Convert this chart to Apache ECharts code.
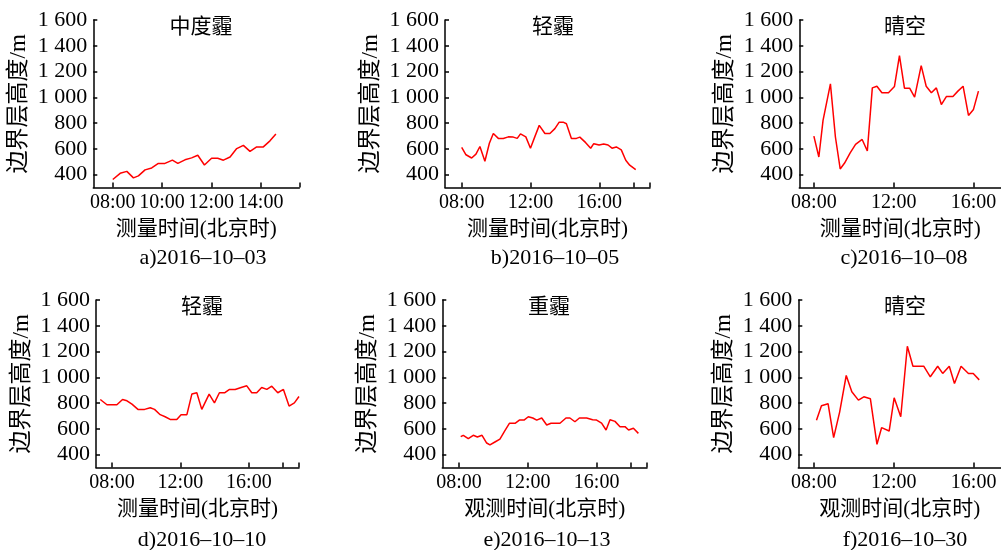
<!DOCTYPE html>
<html>
<head>
<meta charset="utf-8">
<script src="https://cdn.jsdelivr.net/npm/echarts@6/dist/echarts.min.js"></script>
<style>
  html, body { margin: 0; padding: 0; background: #fff; }
  #chart { width: 1001px; height: 550px; }
</style>
</head>
<body>
<div id="chart"></div>
<script>
// Boundary-layer height (m) versus Beijing time (decimal hours), six observation days.
const aTime = [8.00, 8.30, 8.57, 8.84, 9.04, 9.31, 9.58, 9.85, 10.12, 10.42, 10.64, 10.93, 11.20, 11.45, 11.72, 12.01, 12.26, 12.49, 12.76, 13.03, 13.30, 13.57, 13.84, 14.11, 14.38, 14.62];
const aHeight = [362, 410, 425, 375, 390, 437, 452, 487, 487, 512, 487, 515, 530, 550, 475, 527, 527, 512, 537, 602, 627, 580, 615, 615, 662, 715];

const bTime = [8.00, 8.25, 8.58, 8.83, 9.06, 9.35, 9.61, 9.84, 10.13, 10.42, 10.71, 11.00, 11.23, 11.42, 11.73, 12.00, 12.25, 12.51, 12.84, 13.13, 13.42, 13.67, 13.90, 14.09, 14.38, 14.67, 14.87, 15.21, 15.50, 15.68, 15.99, 16.26, 16.51, 16.74, 16.99, 17.28, 17.54, 17.77, 18.12];
const bHeight = [612, 554, 529, 559, 618, 504, 643, 719, 681, 681, 693, 691, 681, 716, 693, 605, 693, 782, 719, 719, 757, 807, 807, 795, 681, 681, 691, 648, 605, 640, 630, 638, 630, 605, 615, 592, 511, 473, 438];

const cTime = [8.00, 8.25, 8.46, 8.83, 9.08, 9.32, 9.54, 9.82, 10.09, 10.42, 10.68, 10.93, 11.16, 11.41, 11.74, 12.04, 12.29, 12.54, 12.80, 13.05, 13.38, 13.63, 13.89, 14.14, 14.39, 14.64, 14.97, 15.22, 15.48, 15.75, 16.00, 16.25];
const cHeight = [699, 537, 821, 1104, 692, 444, 490, 568, 635, 673, 583, 1073, 1086, 1035, 1035, 1084, 1324, 1071, 1071, 1001, 1246, 1086, 1035, 1073, 944, 1006, 1006, 1048, 1086, 859, 906, 1048];

const dTime = [7.32, 7.71, 8.29, 8.62, 8.88, 9.17, 9.52, 9.91, 10.24, 10.49, 10.82, 11.11, 11.40, 11.79, 12.04, 12.38, 12.67, 12.96, 13.25, 13.68, 13.99, 14.28, 14.58, 14.87, 15.20, 15.55, 15.88, 16.17, 16.46, 16.75, 17.05, 17.34, 17.69, 18.02, 18.35, 18.66, 18.93];
const dHeight = [828, 787, 787, 828, 818, 792, 751, 751, 764, 751, 710, 694, 673, 673, 710, 710, 870, 880, 751, 870, 802, 880, 880, 906, 906, 921, 934, 880, 880, 921, 906, 931, 880, 906, 777, 802, 851];

const eTime = [8.10, 8.25, 8.54, 8.83, 9.07, 9.34, 9.61, 9.80, 10.09, 10.38, 10.67, 10.93, 11.26, 11.51, 11.78, 12.03, 12.29, 12.52, 12.81, 13.10, 13.35, 13.87, 14.22, 14.45, 14.74, 15.00, 15.42, 15.77, 16.00, 16.29, 16.55, 16.78, 17.07, 17.36, 17.65, 17.86, 18.14, 18.43];
const eHeight = [539, 550, 524, 550, 537, 550, 490, 475, 498, 521, 586, 643, 643, 668, 668, 694, 684, 668, 684, 630, 643, 643, 684, 684, 655, 684, 684, 671, 668, 645, 591, 671, 658, 617, 617, 591, 604, 565];

const fTime = [8.13, 8.38, 8.71, 8.99, 9.29, 9.62, 9.90, 10.23, 10.50, 10.83, 11.16, 11.39, 11.77, 12.02, 12.35, 12.68, 12.96, 13.50, 13.83, 14.20, 14.45, 14.78, 15.04, 15.37, 15.74, 15.98, 16.28];
const fHeight = [666, 779, 795, 532, 730, 1014, 888, 823, 849, 833, 480, 609, 583, 841, 694, 1241, 1086, 1086, 1004, 1086, 1030, 1086, 952, 1086, 1030, 1030, 980];

// Panel texts
const weatherTitles = ['中度霾', '轻霾', '晴空', '轻霾', '重霾', '晴空'];
const dateCaptions = ['a)2016–10–03', 'b)2016–10–05', 'c)2016–10–08', 'd)2016–10–10', 'e)2016–10–13', 'f)2016–10–30'];
const timeAxisNames = ['测量时间(北京时)', '测量时间(北京时)', '测量时间(北京时)', '测量时间(北京时)', '观测时间(北京时)', '观测时间(北京时)'];
const heightAxisName = '边界层高度/m';
const heightTicks = [400, 600, 800, 1000, 1200, 1400, 1600];
const hourLabelsA = [8, 10, 12, 14];
const hourLabels = [8, 12, 16];

const times = [aTime, bTime, cTime, dTime, eTime, fTime];
const heights = [aHeight, bHeight, cHeight, dHeight, eHeight, fHeight];

// Layout of each small plot (pixel boxes and visible hour range)
const layout = [
  { left: 93.3,  top: 20,  width: 206,   xMin: 7.21, xMax: 15.57, labels: hourLabelsA, ticks: [8, 10, 12, 14, 15.57], tx: 196, dx: 198, capGap: 222 },
  { left: 445,   top: 20,  width: 205,   xMin: 7.03, xMax: 18.95, labels: hourLabels,  ticks: [8, 12, 16, 18, 18.95], tx: 548, dx: 550, capGap: 222 },
  { left: 799.3, top: 20,  width: 204.7, xMin: 7.27, xMax: 17.38, labels: hourLabels,  ticks: [8, 12, 16],            tx: 900, dx: 899, capGap: 222 },
  { left: 96,    top: 300, width: 203,   xMin: 7.07, xMax: 18.93, labels: hourLabels,  ticks: [8, 12, 16, 18, 18.93], tx: 197, dx: 197, capGap: 224 },
  { left: 442.3, top: 300, width: 204.7, xMin: 7.03, xMax: 18.93, labels: hourLabels,  ticks: [8, 12, 16, 18, 18.93], tx: 544, dx: 542, capGap: 224 },
  { left: 798.3, top: 300, width: 204.7, xMin: 7.22, xMax: 17.37, labels: hourLabels,  ticks: [8, 12, 16],            tx: 900, dx: 900, capGap: 224 }
];
const plotHeight = 167.5;

const SERIF = "'Liberation Serif', 'Noto Sans CJK SC', serif";
const INK = '#000';

function hourText(v) {
  const h = Math.round(v);
  return (h < 10 ? '0' : '') + h + ':00';
}
function heightText(v) {
  return v >= 1000 ? Math.floor(v / 1000) + ' ' + String(v % 1000).padStart(3, '0') : String(v);
}

const grid = [], xAxis = [], yAxis = [], series = [], title = [];

layout.forEach((p, i) => {
  grid.push({ left: p.left, top: p.top, width: p.width, height: plotHeight, containLabel: false });

  xAxis.push({
    gridIndex: i,
    type: 'value',
    min: p.xMin,
    max: p.xMax,
    name: timeAxisNames[i],
    nameLocation: 'middle',
    nameGap: 31,
    nameTextStyle: { fontFamily: SERIF, fontSize: 21, color: INK },
    axisLine: { onZero: false, lineStyle: { color: INK, width: 1.5 } },
    axisTick: { inside: true, length: 5, customValues: p.ticks, lineStyle: { color: INK, width: 1.5 } },
    axisLabel: { customValues: p.labels, formatter: hourText, margin: 5, color: INK, fontFamily: SERIF, fontSize: 20 },
    splitLine: { show: false }
  });

  yAxis.push({
    gridIndex: i,
    type: 'value',
    min: 300,
    max: 1600,
    name: heightAxisName,
    nameLocation: 'middle',
    nameRotate: 90,
    nameGap: 63,
    nameTextStyle: { fontFamily: SERIF, fontSize: 23, color: INK },
    axisLine: { show: true, lineStyle: { color: INK, width: 1.5 } },
    axisTick: { show: true, inside: true, length: 4, customValues: heightTicks, lineStyle: { color: INK, width: 1.5 } },
    axisLabel: { customValues: heightTicks, formatter: heightText, margin: 6, color: INK, fontFamily: SERIF, fontSize: 22 },
    splitLine: { show: false }
  });

  series.push({
    type: 'line',
    xAxisIndex: i,
    yAxisIndex: i,
    data: times[i].map((t, k) => [t, heights[i][k]]),
    symbol: 'none',
    lineStyle: { color: '#ff0000', width: 1.5 },
    itemStyle: { color: '#ff0000' },
    animation: false
  });

  title.push({
    text: weatherTitles[i],
    left: p.tx,
    top: p.top - 8,
    textAlign: 'center',
    textStyle: { fontFamily: SERIF, fontSize: 21, fontWeight: 'normal', color: INK }
  });
  title.push({
    text: dateCaptions[i],
    left: p.dx,
    top: p.top + p.capGap,
    textAlign: 'center',
    textStyle: { fontFamily: SERIF, fontSize: 22, fontWeight: 'normal', color: INK }
  });
});

const chart = echarts.init(document.getElementById('chart'), null, { renderer: 'canvas' });
chart.setOption({
  backgroundColor: '#fff',
  animation: false,
  title, grid, xAxis, yAxis, series
});
</script>
</body>
</html>
